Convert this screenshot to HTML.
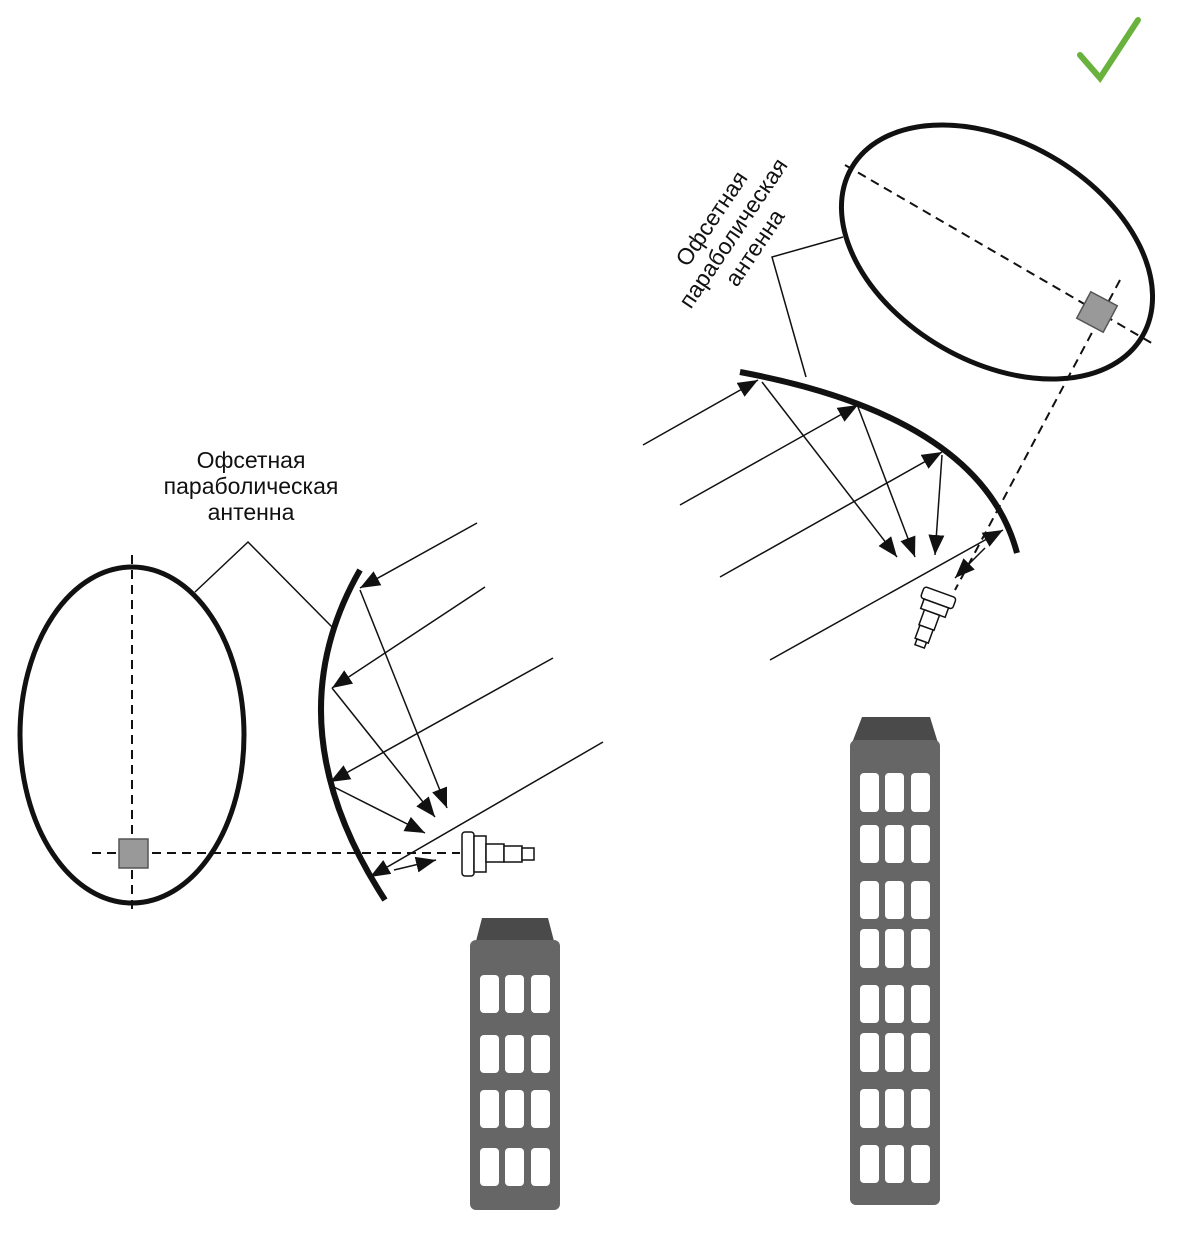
<!DOCTYPE html>
<html><head><meta charset="utf-8"><style>html,body{margin:0;padding:0;background:#fff}svg{display:block}</style></head>
<body>
<svg width="1177" height="1236" viewBox="0 0 1177 1236" xmlns="http://www.w3.org/2000/svg">
<defs>
<marker id="b" viewBox="0 0 10 10" refX="10" refY="5" markerWidth="20" markerHeight="20" markerUnits="userSpaceOnUse" orient="auto"><path d="M0,1 L10,5 L0,9 z" fill="#111"/></marker>
</defs>
<path d="M1080,55 L1100,78 L1138,20" fill="none" stroke="#6ab23e" stroke-width="6" stroke-linecap="round"/>

<!-- LEFT -->
<ellipse cx="132" cy="735" rx="112" ry="168" fill="none" stroke="#111" stroke-width="5"/>
<line x1="132" y1="555" x2="132" y2="915" stroke="#111" stroke-width="2" stroke-dasharray="9,6"/>
<line x1="92" y1="853" x2="460" y2="853" stroke="#111" stroke-width="2" stroke-dasharray="9,6"/>
<rect x="119" y="839" width="29" height="29" fill="#999" stroke="#555" stroke-width="1.5"/>
<path d="M360,570 Q271,725 385,900" fill="none" stroke="#111" stroke-width="6"/>
<text font-family="Liberation Sans, sans-serif" font-size="23" fill="#111" text-anchor="middle"><tspan x="251" y="468">Офсетная</tspan><tspan x="251" y="494">параболическая</tspan><tspan x="251" y="520">антенна</tspan></text>
<polyline points="195,592 248,542 335,630" fill="none" stroke="#111" stroke-width="1.5"/>
<g stroke="#111" stroke-width="1.5" fill="none" marker-end="url(#b)">
<line x1="477" y1="523" x2="360" y2="588"/>
<line x1="485" y1="587" x2="332" y2="688"/>
<line x1="553" y1="658" x2="330" y2="782"/>
<line x1="603" y1="742" x2="370" y2="877"/>
<line x1="360" y1="590" x2="447" y2="808"/>
<line x1="332" y1="688" x2="435" y2="817"/>
<line x1="330" y1="785" x2="425" y2="833"/>
<line x1="394" y1="870" x2="436" y2="860"/>
</g>
<g stroke="#111" stroke-width="1.5" fill="#fff">
<rect x="462" y="832" width="12" height="44" rx="3"/>
<rect x="474" y="836" width="12" height="36"/>
<rect x="486" y="844" width="18" height="18"/>
<rect x="504" y="846" width="18" height="16"/>
<rect x="522" y="848" width="12" height="12"/>
</g>
<path d="M482,918 L548,918 L555,945 L475,945 Z" fill="#4a4a4a"/>
<rect x="470" y="940" width="90" height="270" rx="6" fill="#666"/>
<g fill="#fff">
<rect x="480" y="975" width="19" height="38" rx="4"/><rect x="505" y="975" width="19" height="38" rx="4"/><rect x="531" y="975" width="19" height="38" rx="4"/>
<rect x="480" y="1035" width="19" height="38" rx="4"/><rect x="505" y="1035" width="19" height="38" rx="4"/><rect x="531" y="1035" width="19" height="38" rx="4"/>
<rect x="480" y="1090" width="19" height="38" rx="4"/><rect x="505" y="1090" width="19" height="38" rx="4"/><rect x="531" y="1090" width="19" height="38" rx="4"/>
<rect x="480" y="1148" width="19" height="38" rx="4"/><rect x="505" y="1148" width="19" height="38" rx="4"/><rect x="531" y="1148" width="19" height="38" rx="4"/>
</g>

<!-- RIGHT -->
<ellipse cx="997" cy="252" rx="168" ry="110" transform="rotate(30 997 252)" fill="none" stroke="#111" stroke-width="5"/>
<line x1="845" y1="165" x2="1155" y2="345" stroke="#111" stroke-width="2" stroke-dasharray="9,6"/>
<line x1="1120" y1="280" x2="955" y2="590" stroke="#111" stroke-width="2" stroke-dasharray="9,6"/>
<rect x="1082" y="297" width="30" height="30" fill="#999" stroke="#555" stroke-width="1.5" transform="rotate(28 1097 312)"/>
<path d="M740,372 Q981,417 1017,553" fill="none" stroke="#111" stroke-width="6"/>
<text font-family="Liberation Sans, sans-serif" font-size="23" fill="#111" text-anchor="middle" transform="translate(733,233) rotate(-56)"><tspan x="0" y="-18">Офсетная</tspan><tspan x="0" y="8">параболическая</tspan><tspan x="0" y="34">антенна</tspan></text>
<polyline points="843,237 772,257 806,377" fill="none" stroke="#111" stroke-width="1.5"/>
<g stroke="#111" stroke-width="1.5" fill="none" marker-end="url(#b)">
<line x1="643" y1="445" x2="758" y2="380"/>
<line x1="680" y1="505" x2="858" y2="405"/>
<line x1="720" y1="577" x2="942" y2="452"/>
<line x1="770" y1="660" x2="1003" y2="530"/>
<line x1="762" y1="382" x2="897" y2="557"/>
<line x1="858" y1="407" x2="915" y2="557"/>
<line x1="942" y1="455" x2="935" y2="555"/>
<line x1="985" y1="548" x2="955" y2="578"/>
</g>
<g stroke="#111" stroke-width="1.5" fill="#fff" transform="rotate(20 930 615)">
<rect x="915" y="590" width="34" height="12" rx="3"/>
<rect x="919" y="602" width="26" height="10"/>
<rect x="923" y="612" width="16" height="16"/>
<rect x="924" y="628" width="14" height="14"/>
<rect x="926" y="642" width="10" height="6"/>
</g>
<path d="M862,717 L930,717 L938,743 L852,743 Z" fill="#4a4a4a"/>
<rect x="850" y="740" width="90" height="465" rx="6" fill="#666"/>
<g fill="#fff">
<rect x="860" y="773" width="19" height="39" rx="4"/><rect x="885" y="773" width="19" height="39" rx="4"/><rect x="911" y="773" width="19" height="39" rx="4"/>
<rect x="860" y="825" width="19" height="38" rx="4"/><rect x="885" y="825" width="19" height="38" rx="4"/><rect x="911" y="825" width="19" height="38" rx="4"/>
<rect x="860" y="881" width="19" height="38" rx="4"/><rect x="885" y="881" width="19" height="38" rx="4"/><rect x="911" y="881" width="19" height="38" rx="4"/>
<rect x="860" y="929" width="19" height="39" rx="4"/><rect x="885" y="929" width="19" height="39" rx="4"/><rect x="911" y="929" width="19" height="39" rx="4"/>
<rect x="860" y="985" width="19" height="38" rx="4"/><rect x="885" y="985" width="19" height="38" rx="4"/><rect x="911" y="985" width="19" height="38" rx="4"/>
<rect x="860" y="1033" width="19" height="39" rx="4"/><rect x="885" y="1033" width="19" height="39" rx="4"/><rect x="911" y="1033" width="19" height="39" rx="4"/>
<rect x="860" y="1089" width="19" height="39" rx="4"/><rect x="885" y="1089" width="19" height="39" rx="4"/><rect x="911" y="1089" width="19" height="39" rx="4"/>
<rect x="860" y="1145" width="19" height="38" rx="4"/><rect x="885" y="1145" width="19" height="38" rx="4"/><rect x="911" y="1145" width="19" height="38" rx="4"/>
</g>
</svg>
</body></html>
